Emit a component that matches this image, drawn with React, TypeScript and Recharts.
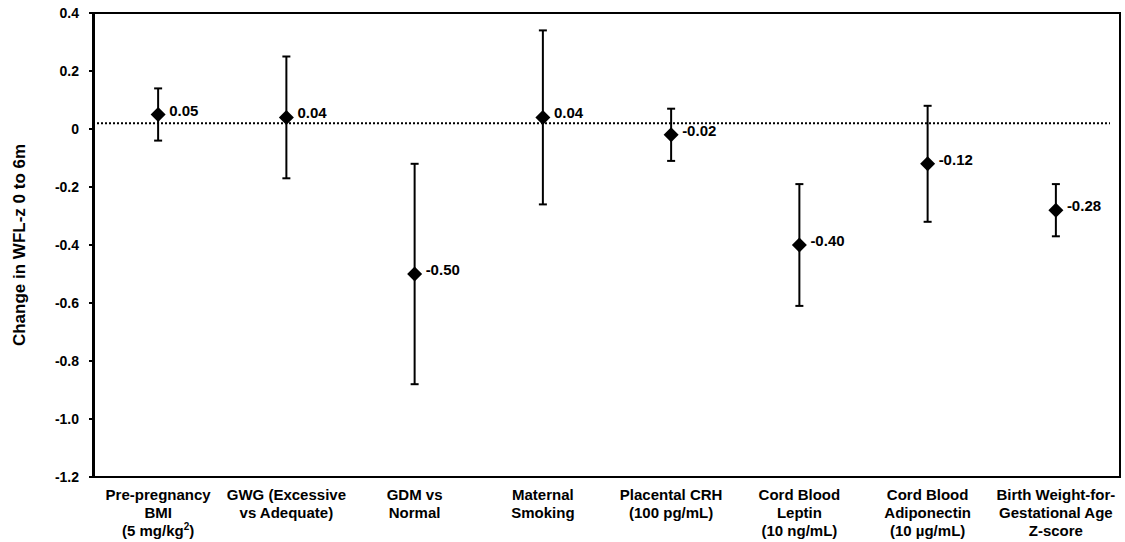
import React from 'react';
import {
  ComposedChart,
  Line,
  ErrorBar,
  XAxis,
  YAxis,
  ReferenceLine,
  ReferenceArea,
  LabelList,
} from 'recharts';

// exposures on the x axis, one entry per line of the tick label ("^" marks a superscript)
const exposureLabels = [
  ['Pre-pregnancy', 'BMI', '(5 mg/kg^2)'],
  ['GWG (Excessive', 'vs Adequate)'],
  ['GDM vs', 'Normal'],
  ['Maternal', 'Smoking'],
  ['Placental CRH', '(100 pg/mL)'],
  ['Cord Blood', 'Leptin', '(10 ng/mL)'],
  ['Cord Blood', 'Adiponectin', '(10 \u00B5g/mL)'],
  ['Birth Weight-for-', 'Gestational Age', 'Z-score'],
];

// change in WFL-z 0 to 6m, with 95% CI
const estimates = [0.05, 0.04, -0.5, 0.04, -0.02, -0.4, -0.12, -0.28];
const lowerCI = [-0.04, -0.17, -0.88, -0.26, -0.11, -0.61, -0.32, -0.37];
const upperCI = [0.14, 0.25, -0.12, 0.34, 0.07, -0.19, 0.08, -0.19];

const yTicks = [0.4, 0.2, 0, -0.2, -0.4, -0.6, -0.8, -1.0, -1.2];
const referenceValue = 0.02;

const FONT = '"Liberation Sans", Arial, Helvetica, sans-serif';

const chartData = exposureLabels.map((lines, i) => ({
  name: lines.join(' '),
  est: estimates[i],
  err: [estimates[i] - lowerCI[i], upperCI[i] - estimates[i]],
}));

const renderLine = (line: string) => {
  const [base, sup] = line.split('^');
  if (sup === undefined) return line;
  return (
    <>
      {base}
      <tspan dy={-6} fontSize={10}>
        {sup[0]}
      </tspan>
      <tspan dy={6}>{sup.slice(1)}</tspan>
    </>
  );
};

const ExposureTick = (props: any) => {
  const { x, y, payload } = props;
  const lines = exposureLabels[payload.index] || [];
  return (
    <g transform={`translate(${x},${y})`}>
      {lines.map((line, i) => (
        <text
          key={i}
          x={0}
          y={15 + i * 18}
          textAnchor="middle"
          fontFamily={FONT}
          fontWeight="bold"
          fontSize={15}
          fill="#000"
        >
          {renderLine(line)}
        </text>
      ))}
    </g>
  );
};

const Diamond = (props: any) => {
  const { cx, cy } = props;
  if (cx == null || cy == null) return null;
  const r = 7.5;
  return <path d={`M${cx},${cy - r}L${cx + r},${cy}L${cx},${cy + r}L${cx - r},${cy}Z`} fill="#000" />;
};

const ValueLabel = (props: any) => {
  const { x, y, value } = props;
  return (
    <text x={x + 11} y={y + 1} fontFamily={FONT} fontWeight="bold" fontSize={15} fill="#000">
      {Number(value).toFixed(2)}
    </text>
  );
};

const AxisTitle = (props: any) => {
  const { viewBox } = props;
  const cy = viewBox.y + viewBox.height / 2;
  return (
    <text
      transform={`translate(19,${cy}) rotate(-90)`}
      textAnchor="middle"
      dominantBaseline="central"
      fontFamily={FONT}
      fontWeight="bold"
      fontSize={17}
      fill="#000"
    >
      Change in WFL-z 0 to 6m
    </text>
  );
};

const App: React.FC = () => {
  return (
    <div style={{ position: 'absolute', left: 0, top: 0, background: '#fff' }}>
      <ComposedChart width={1125} height={542} data={chartData} margin={{ top: 13, right: 15, left: 0, bottom: 0 }}>
        <ReferenceArea y1={-1.2} y2={0.4} fill="none" stroke="#000" strokeWidth={2} ifOverflow="visible" />
        <ReferenceLine y={referenceValue} stroke="#000" strokeWidth={2} strokeDasharray="2 2" />
        <XAxis
          dataKey="name"
          scale="band"
          padding={{ left: 1, right: -10 }}
          interval={0}
          height={65}
          tickLine={false}
          axisLine={{ stroke: '#000', strokeWidth: 2 }}
          tick={<ExposureTick />}
        />
        <YAxis
          type="number"
          domain={[-1.2, 0.4]}
          ticks={yTicks}
          width={93}
          interval={0}
          tickSize={4}
          tickMargin={10}
          tickLine={{ stroke: '#000', strokeWidth: 2 }}
          axisLine={{ stroke: '#000', strokeWidth: 2 }}
          tickFormatter={(v: number) => (v === 0 ? '0' : v.toFixed(1))}
          tick={{ fontFamily: FONT, fontWeight: 'bold', fontSize: 14, fill: '#000' }}
          label={{ content: <AxisTitle /> }}
        />
        <Line
          dataKey="est"
          stroke="none"
          dot={<Diamond />}
          activeDot={false}
          isAnimationActive={false}
        >
          <ErrorBar dataKey="err" direction="y" width={4} stroke="#000" strokeWidth={2} />
          <LabelList dataKey="est" content={<ValueLabel />} />
        </Line>
      </ComposedChart>
    </div>
  );
};

export default App;
